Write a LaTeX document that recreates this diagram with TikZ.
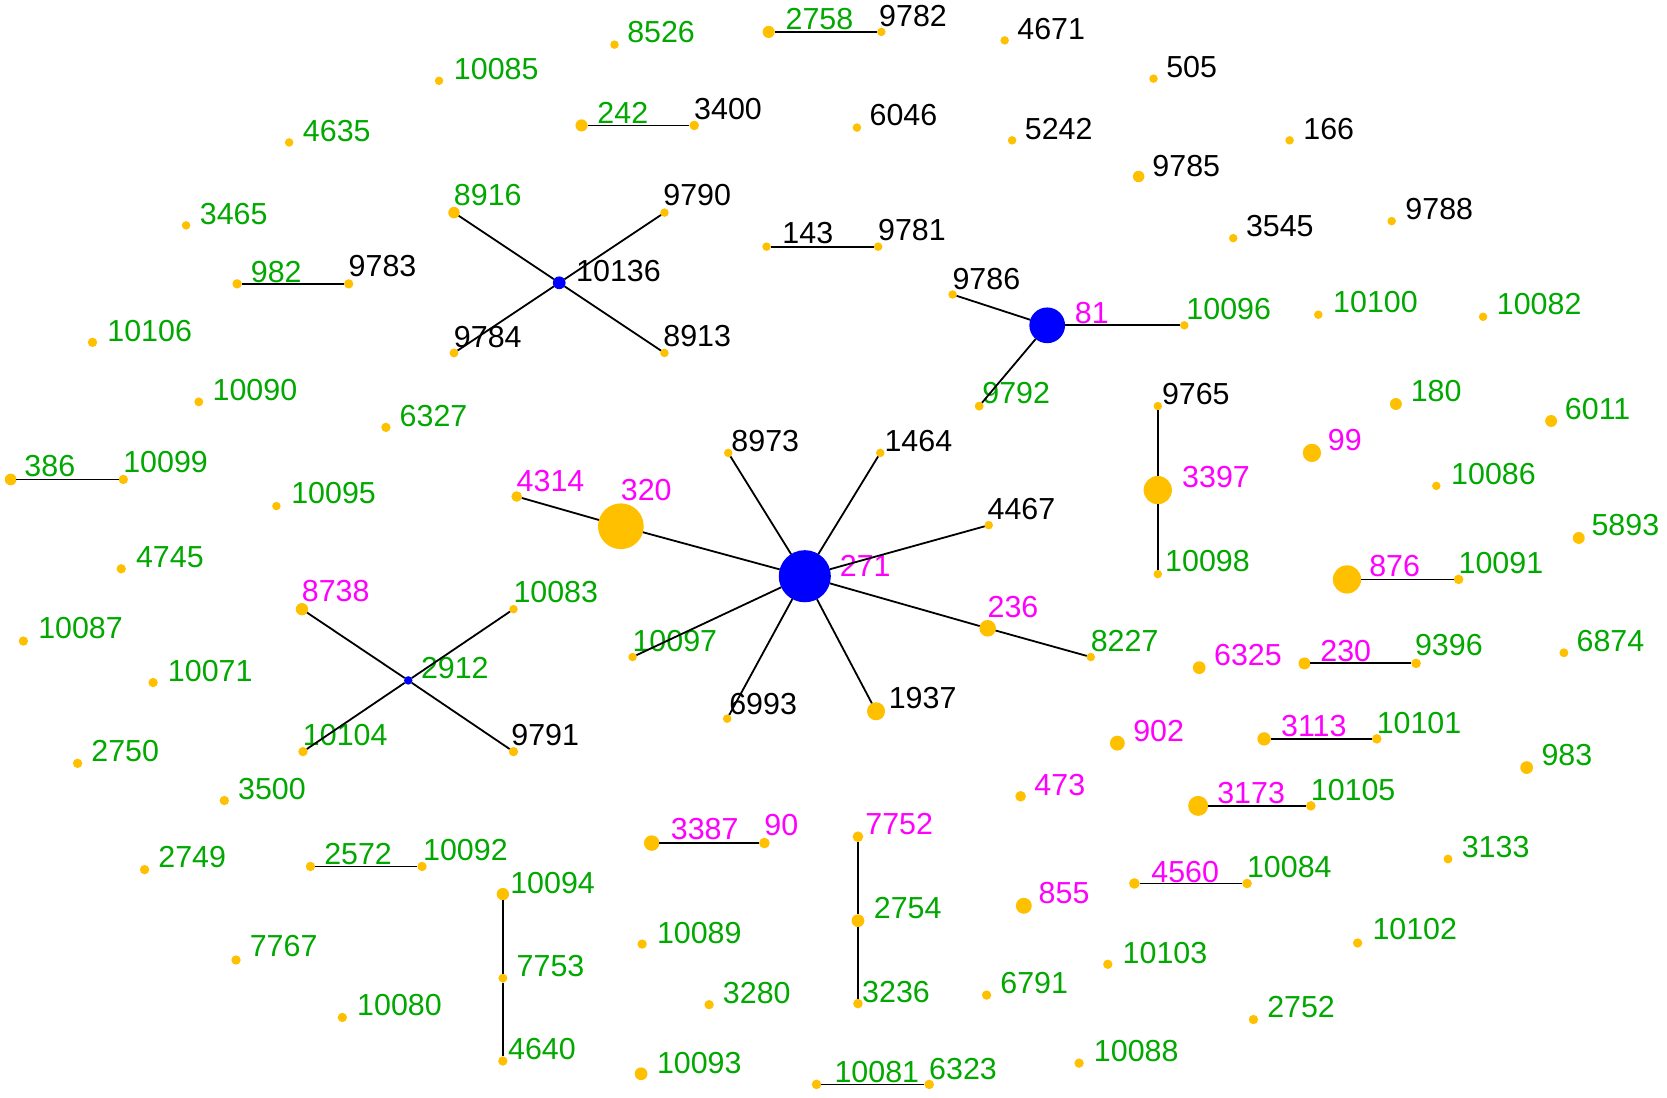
\documentclass[tikz,border=0pt]{standalone}
\usepackage{fontspec}
\setmainfont{Liberation Sans}
\definecolor{ora}{RGB}{255,192,0}
\definecolor{blu}{RGB}{0,0,255}
\definecolor{grn}{RGB}{0,168,0}
\definecolor{mag}{RGB}{255,0,255}
\definecolor{blk}{RGB}{0,0,0}
\tikzset{
  dot/.style={circle, inner sep=0pt, outer sep=0pt, draw=none},
  lab/.style={anchor=west, inner sep=0pt, outer sep=0pt, font=\fontsize{14.3}{16}\selectfont},
  edge/.style={draw=black, line width=0.85pt}
}
\begin{document}
\begin{tikzpicture}[x=0.5pt, y=-0.5pt]
\useasboundingbox (0,0) rectangle (1568,1032);
\foreach \n/\x/\y/\r/\lx/\ly/\c/\f in {
8526/578/42/4/590/30/grn/ora,
2758/723/30/5.7/739/18/grn/ora,
9782/829/30/4/827/15/blk/ora,
4671/945/38/4/957/27/blk/ora,
10085/413/76/4/427/65/grn/ora,
505/1085/74/4/1097/63/blk/ora,
242/547/118/5.7/562/106/grn/ora,
3400/653/118/4.5/653/103/blk/ora,
6046/806/120/4/818/108/blk/ora,
5242/952/132/4/964/121/blk/ora,
166/1213/132/4/1226/121/blk/ora,
4635/272/134/4/285/123/grn/ora,
9785/1071/166/5.4/1084/156/blk/ora,
3465/175/212/4/188/201/grn/ora,
8916/427/200/5.4/427/183/grn/ora,
9790/625/200/4/624/183/blk/ora,
10136/526/266/6/542/255/blk/blu,
143/721/232/4/736/219/blk/ora,
9781/826/232/4/826/216/blk/ora,
3545/1160/224/4/1172/213/blk/ora,
9788/1309/208/4/1322/197/blk/ora,
982/223/267/4.4/236/256/grn/ora,
9783/328/267/4.4/328/250/blk/ora,
9784/427/332/4.2/427/317/blk/ora,
8913/625/332/4/624/316/blk/ora,
9786/896/277/4/896/262/blk/ora,
81/985/306/16.8/1011/294/mag/blu,
10096/1114/306/4/1116/291/grn/ora,
10100/1240/296/4/1254/284/grn/ora,
10082/1395/298/4/1408/286/grn/ora,
10106/87/322/4.4/101/311/grn/ora,
9792/921/382/4.2/924/370/grn/ora,
10090/187/378/4.2/200/367/grn/ora,
6327/363/402/4.4/376/391/grn/ora,
9765/1089/382/4/1093/371/blk/ora,
3397/1089/461/13.3/1112/449/mag/ora,
10098/1089/540/4/1096/528/grn/ora,
180/1313/380/5.6/1327/368/grn/ora,
6011/1459/396/5.6/1472/385/grn/ora,
99/1234/426/8.6/1249/414/mag/ora,
10086/1351/457/4/1365/446/grn/ora,
386/10/451/5.5/23/438/grn/ora,
10099/116/451/4.4/116/435/grn/ora,
10095/260/476/4/274/464/grn/ora,
4314/486/467/5/486/452/mag/ora,
320/584/495/21.5/584/461/mag/ora,
8973/685/426/4/688/415/blk/ora,
1464/828/426/4/832/415/blk/ora,
4467/930/494/4/929/479/blk/ora,
271/757/542/24.5/790/532/mag/blu,
5893/1485/506/5.6/1497/494/grn/ora,
876/1267/545/13.3/1288/532/mag/ora,
10091/1372/545/4.5/1372/530/grn/ora,
4745/114/535/4.4/128/524/grn/ora,
8738/284/573/5.8/284/556/mag/ora,
10083/483/573/4/483/557/grn/ora,
2912/384/640/4/396/628/grn/blu,
10087/22/603/4.4/36/591/grn/ora,
10071/144/642/4.4/158/631/grn/ora,
10097/595/618/4/595/603/grn/ora,
236/929/591/7.8/929/571/mag/ora,
8227/1026/618/4/1026/603/grn/ora,
6325/1128/628/6/1142/616/mag/ora,
230/1227/624/5.6/1242/612/mag/ora,
9396/1332/624/4.5/1331/607/grn/ora,
6874/1471/614/4.2/1483/603/grn/ora,
6993/684/676/4/686/662/blk/ora,
1937/824/669/8.5/836/657/blk/ora,
10104/285/707/4.4/285/691/grn/ora,
9791/483/707/4.4/481/691/blk/ora,
2750/73/718/4.4/86/706/grn/ora,
902/1051/699/7/1066/688/mag/ora,
3113/1189/695/6.3/1205/683/mag/ora,
10101/1295/695/4.5/1295/680/grn/ora,
983/1436/722/6/1450/710/grn/ora,
3500/211/753/4.4/224/742/grn/ora,
473/960/749/5/973/738/mag/ora,
3173/1127/758/9.4/1145/746/mag/ora,
10105/1233/758/4.5/1233/743/grn/ora,
3387/613/793/7.3/631/780/mag/ora,
90/719/793/5/719/776/mag/ora,
7752/807/787/5/814/775/mag/ora,
2754/807/866/6/822/854/grn/ora,
3236/807/944/4.5/811/933/grn/ora,
2749/136/818/4.4/149/806/grn/ora,
2572/292/815/4.4/305/803/grn/ora,
10092/397/815/4.4/398/800/grn/ora,
10094/473/841/5.8/480/831/grn/ora,
7753/473/920/4.2/486/909/grn/ora,
4640/473/998/4.4/478/987/grn/ora,
3133/1362/808/4.2/1375/797/grn/ora,
4560/1067/831/5/1083/820/mag/ora,
10084/1173/831/4.5/1173/816/grn/ora,
855/963/852/7.5/977/840/mag/ora,
10089/604/888/4.4/618/878/grn/ora,
10102/1277/887/4.4/1291/874/grn/ora,
7767/222/903/4.4/235/890/grn/ora,
10103/1042/907/4.4/1056/896/grn/ora,
6791/928/936/4.4/941/925/grn/ora,
3280/667/945/4.4/680/934/grn/ora,
10080/322/957/4.4/336/945/grn/ora,
2752/1179/959/4.4/1192/947/grn/ora,
10088/1015/1000/4.4/1029/989/grn/ora,
10093/603/1010/6/618/1000/grn/ora,
10081/768/1020/4.5/785/1008/grn/ora,
6323/874/1020/4.5/874/1006/grn/ora}
{
  \node[dot, fill=\f, minimum size=\r pt] (n\n) at (\x,\y) {};
  \node[lab, text=\c] (l\n) at (\lx,\ly) {\n};
}
\foreach \a/\b in {320/4314, 271/320, 271/8973, 271/1464, 271/4467, 271/236, 236/8227,
  271/1937, 271/6993, 271/10097,
  10136/8916, 10136/9790, 10136/9784, 10136/8913,
  2912/8738, 2912/10083, 2912/10104, 2912/9791,
  81/9786, 81/10096, 81/9792,
  3397/9765, 3397/10098,
  2754/7752, 2754/3236,
  7753/10094, 7753/4640,
  2758/9782, 242/3400, 143/9781, 982/9783, 386/10099, 876/10091, 230/9396,
  3113/10101, 3173/10105, 3387/90, 2572/10092, 4560/10084, 10081/6323}
{
  \draw[edge] (n\a) -- (n\b);
}
\end{tikzpicture}
\end{document}
